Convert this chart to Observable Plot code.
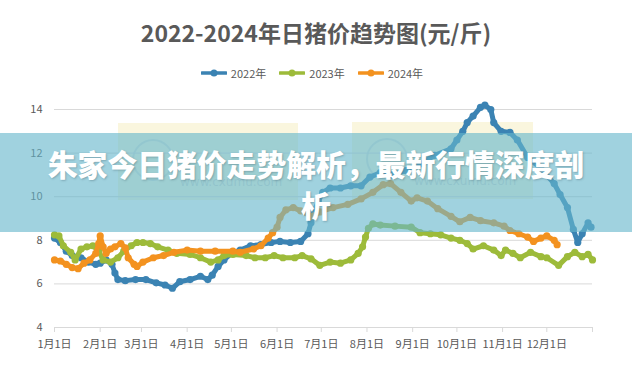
<!DOCTYPE html>
<html><head><meta charset="utf-8">
<script src="https://cdn.jsdelivr.net/npm/d3@7"></script>
<script src="https://cdn.jsdelivr.net/npm/@observablehq/plot@0.6"></script>
<style>
body{margin:0;background:#fff;}
#wrap{position:relative;width:632px;height:368px;overflow:hidden;font-family:"Noto Sans CJK SC","Noto Sans",sans-serif;background:#fff;}
#title{position:absolute;left:0;top:17px;width:632px;text-align:center;font-size:23px;line-height:30px;font-weight:bold;color:#595959;}
#legend{position:absolute;left:-4px;top:65px;width:632px;display:flex;justify-content:center;gap:13px;font-size:11px;color:#595959;line-height:16px;}
#legend .it{display:flex;align-items:center;gap:4px;}
.wm{position:absolute;background:rgba(246,238,195,0.55);}
.wm .c{position:absolute;left:14px;top:16px;width:38px;height:38px;border-radius:50%;border:2px solid rgba(170,190,200,0.35);}
.wm .t{position:absolute;left:62px;top:52px;font-size:12px;color:rgba(150,160,165,0.35);font-family:"DejaVu Sans",sans-serif;}
#chart{position:absolute;left:0;top:0;}
#banner{position:absolute;left:0;top:133px;width:632px;height:99px;background:rgba(102,182,203,0.62);}
#btext{position:absolute;left:0;top:143px;width:632px;text-align:center;color:#fff;font-weight:900;font-size:29.8px;line-height:41px;text-shadow:1px 1px 2px rgba(60,90,100,0.35);}
</style></head>
<body><div id="wrap">
<div id="title">2022-2024年日猪价趋势图(元/斤)</div>
<div id="legend"></div>
<div class="wm" style="left:118px;top:123px;width:180px;height:77px;"><div class="c"></div><div class="t">www.cxumu.com</div></div>
<div class="wm" style="left:352px;top:122px;width:181px;height:77px;"><div class="c"></div><div class="t">www.cxumu.com</div></div>
<div id="chart"></div>
<div id="banner"></div>
<div id="btext">朱家今日猪价走势解析，最新行情深度剖<br>析</div>
</div>
<script>
const seriesNames = ["2022年", "2023年", "2024年"];
const seriesColors = ["#3b83b3", "#9dbb3a", "#f3921f"];
const monthTicks = [0, 31, 59, 90, 120, 151, 181, 212, 243, 273, 304, 334];
const monthLabels = ["1月1日","2月1日","3月1日","4月1日","5月1日","6月1日","7月1日","8月1日","9月1日","10月1日","11月1日","12月1日"];
const yTicks = [4, 6, 8, 10, 12, 14];

const days2022 = [0,4,8,12,18,23,28,31,35,39,41,43,48,55,62,69,75,80,85,92,99,104,107,111,115,120,126,133,140,147,153,160,167,172,174,176,179,182,187,194,201,208,214,221,229,238,248,258,269,273,277,280,284,289,292,296,298,303,309,314,321,330,339,343,348,352,355,358,362,364];
const price2022 = [8.1,7.9,7.5,7.3,7.2,7.0,6.9,6.95,7.1,6.9,6.5,6.2,6.15,6.2,6.2,6.05,5.95,5.8,6.1,6.2,6.35,6.2,6.4,6.8,7.1,7.4,7.55,7.75,7.8,7.9,7.95,7.9,7.95,8.3,8.8,9.3,9.8,10.2,10.4,10.4,10.5,10.5,10.9,11.1,11.0,11.2,11.5,11.9,12.2,12.6,13.0,13.4,13.7,14.1,14.2,14.0,13.4,13.0,12.95,12.6,11.8,11.3,10.6,10.1,9.5,8.5,7.9,8.3,8.8,8.6];

const days2023 = [0,3,6,11,14,18,22,26,30,33,38,43,47,52,56,60,65,70,77,83,92,99,106,111,115,121,130,136,143,149,155,163,168,174,180,187,194,201,206,209,211,213,216,221,231,242,248,255,262,269,275,280,284,291,298,303,306,311,316,323,330,334,342,348,353,358,362,365];
const price2023 = [8.25,8.2,7.75,7.45,7.1,7.6,7.7,7.75,7.5,7.1,7.0,7.2,7.5,7.75,7.9,7.9,7.85,7.7,7.55,7.4,7.35,7.2,7.0,7.1,7.3,7.35,7.3,7.2,7.2,7.3,7.2,7.2,7.3,7.15,6.85,7.0,6.95,7.1,7.4,7.7,8.15,8.55,8.75,8.7,8.65,8.6,8.35,8.3,8.25,8.1,8.0,7.85,7.6,7.75,7.55,7.3,7.55,7.4,7.2,7.45,7.25,7.2,6.85,7.25,7.45,7.25,7.35,7.1];

const days2024 = [0,4,8,12,16,20,24,28,30,31,33,35,38,41,45,48,50,54,56,60,67,74,81,90,99,109,121,126,135,140,145,148,151,153,157,162,167,174,180,189,199,208,216,223,228,235,242,246,253,260,269,275,282,289,298,305,309,315,321,325,330,334,339,341];
const price2024 = [7.1,7.05,6.9,6.75,6.7,6.95,7.1,7.4,7.85,8.2,7.7,7.4,7.6,7.7,7.85,7.65,7.2,6.9,6.8,7.0,7.2,7.3,7.45,7.55,7.5,7.5,7.5,7.45,7.6,7.75,8.1,8.35,8.6,9.05,9.4,9.5,9.35,9.1,9.3,9.5,9.65,9.9,10.2,10.55,10.6,10.2,9.8,9.95,9.8,9.45,9.1,8.85,9.05,8.9,8.8,8.65,8.45,8.3,8.15,7.95,8.1,8.2,8.0,7.8];

const seriesDays = [days2022, days2023, days2024];
const seriesPrices = [price2022, price2023, price2024];
const series = seriesNames.map((name, i) => seriesDays[i].map((d, j) => ({year: name, day: d, price: seriesPrices[i][j]})));

// legend
const lg = document.getElementById("legend");
seriesNames.forEach((n, i) => {
  const it = document.createElement("div"); it.className = "it";
  it.innerHTML = `<svg width="26" height="10"><line x1="1" y1="5" x2="25" y2="5" stroke="${seriesColors[i]}" stroke-width="3.5" stroke-linecap="round"/><circle cx="13" cy="5" r="3.5" fill="${seriesColors[i]}"/></svg><span>${n}</span>`;
  lg.appendChild(it);
});

const color = {domain: seriesNames, range: seriesColors};
const chart = Plot.plot({
  width: 632, height: 368,
  marginTop: 109, marginBottom: 41, marginLeft: 54, marginRight: 40,
  x: {domain: [0, 365]},
  y: {domain: [4, 14]},
  color,
  style: {background: "transparent", fontFamily: '"Noto Sans CJK SC", sans-serif', fontSize: "11px", color: "#595959"},
  marks: [
    Plot.gridY([6, 8, 10, 12, 14], {stroke: "#d9d9d9", strokeOpacity: 1, strokeWidth: 1}),
    Plot.ruleY([4], {stroke: "#d9d9d9", strokeWidth: 1}),
    Plot.axisY({ticks: yTicks, tickSize: 0, tickPadding: 12, label: null}),
    Plot.axisX({ticks: [...monthTicks, 365], tickSize: 5, tickPadding: 8, stroke: "#d9d9d9", label: null,
      tickFormat: d => { const k = monthTicks.indexOf(d); return k >= 0 ? monthLabels[k] : ""; }}),
    ...series.flatMap(s => [
      Plot.line(s, {x: "day", y: "price", stroke: "year", strokeWidth: 5, strokeLinejoin: "round", strokeLinecap: "round"}),
      Plot.dot(s, {x: "day", y: "price", fill: "year", r: 3.6})
    ])
  ]
});
document.getElementById("chart").appendChild(chart);
</script>
</body></html>
